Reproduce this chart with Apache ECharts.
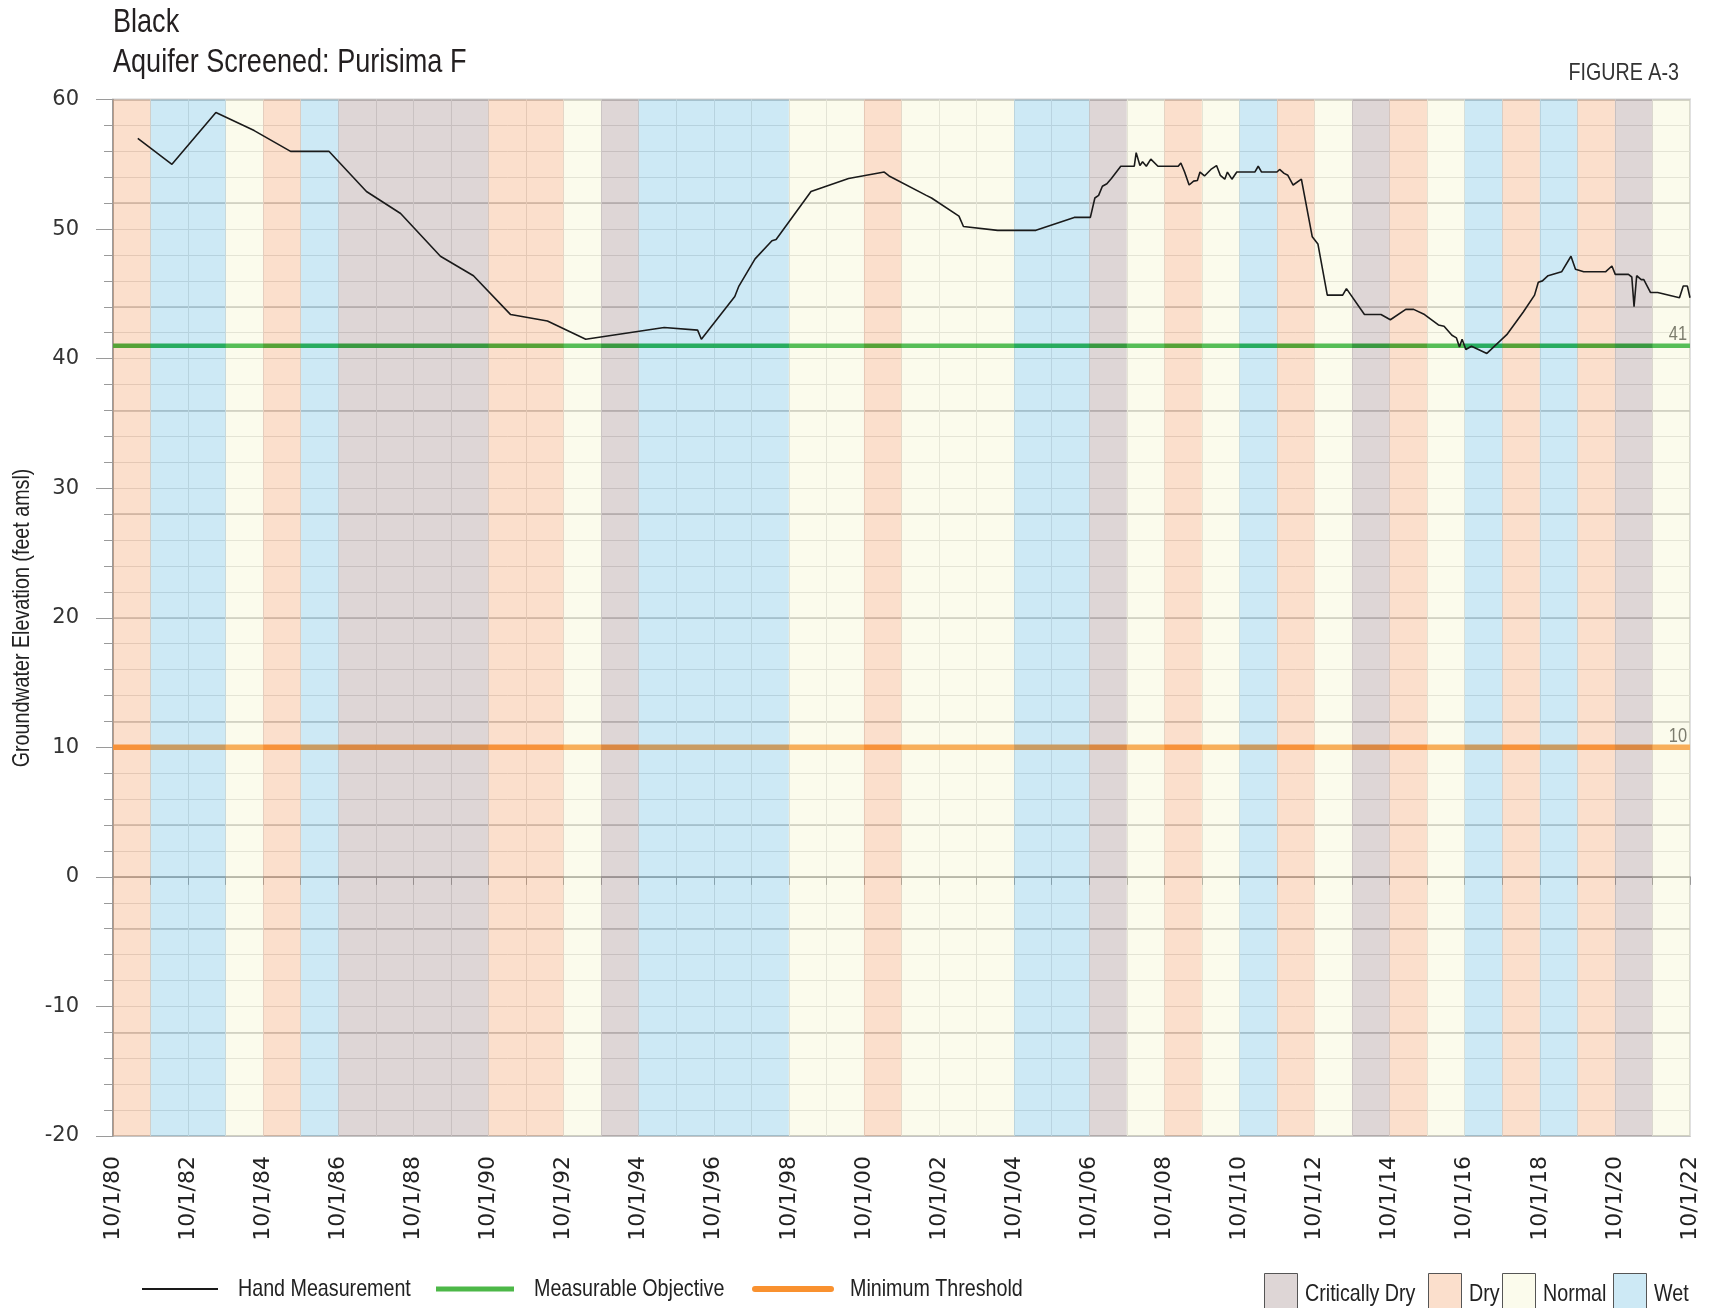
<!DOCTYPE html>
<html>
<head>
<meta charset="utf-8">
<script src="https://cdn.jsdelivr.net/npm/echarts@6/dist/echarts.min.js"></script>
<style>
html,body{margin:0;padding:0;background:#fff;}
#chart{width:1709px;height:1308px;}
</style>
</head>
<body>
<div id="chart"></div>
<script>
// ---------------- DATA ----------------
const titleLines = ['Black', 'Aquifer Screened: Purisima F'];
const figureLabel = 'FIGURE A-3';
const yAxisName = 'Groundwater Elevation (feet amsl)';
const lineLegendNames = ['Hand Measurement', 'Measurable Objective', 'Minimum Threshold'];

// Water year types, one per water year starting 10/1/1980 ... 10/1/2021
const firstWaterYear = 1980;
const yearTypes = ['Dry','Wet','Wet','Normal','Dry','Wet',
  'Critically Dry','Critically Dry','Critically Dry','Critically Dry',
  'Dry','Dry','Normal','Critically Dry','Wet','Wet','Wet','Wet',
  'Normal','Normal','Dry','Normal','Normal','Normal','Wet','Wet',
  'Critically Dry','Normal','Dry','Normal','Wet','Dry','Normal',
  'Critically Dry','Dry','Normal','Wet','Dry','Wet','Dry',
  'Critically Dry','Normal'];
const typeNames = ['Critically Dry','Dry','Normal','Wet'];

// Hand measurement: dates as decimal years, groundwater elevation (ft amsl)
const handDates = [1981.41,1982.32,1983.49,1984.51,1985.48,1986.50,1987.50,1988.41,1989.47,1990.35,
  1991.34,1992.32,1993.34,1995.43,1996.32,1996.42,1997.31,1997.42,1997.85,1998.30,
  1998.41,1999.34,2000.34,2001.29,2001.42,2002.41,2002.55,2003.28,2003.40,2004.31,
  2005.33,2006.35,2006.78,2006.90,2007.00,2007.10,2007.22,2007.34,2007.38,2007.59,
  2007.95,2008.00,2008.10,2008.17,2008.27,2008.39,2008.58,2009.12,2009.19,2009.29,
  2009.41,2009.53,2009.63,2009.70,2009.82,2009.99,2010.14,2010.24,2010.36,2010.43,
  2010.55,2010.68,2011.16,2011.25,2011.34,2011.75,2011.82,2011.94,2012.04,2012.18,
  2012.40,2012.69,2012.84,2013.09,2013.50,2013.60,2014.08,2014.52,2014.77,2015.18,
  2015.39,2015.68,2016.05,2016.20,2016.41,2016.53,2016.61,2016.68,2016.78,2016.93,
  2017.34,2017.87,2018.31,2018.61,2018.71,2018.82,2018.97,2019.33,2019.58,2019.70,
  2019.92,2020.50,2020.67,2020.76,2021.11,2021.20,2021.26,2021.33,2021.45,2021.52,
  2021.70,2021.89,2022.47,2022.57,2022.68,2022.75];
const handValues = [57.0,55.0,59.0,57.6,56.0,56.0,52.9,51.2,47.9,46.4,
  43.4,42.9,41.5,42.4,42.2,41.5,44.8,45.6,47.7,49.1,
  49.2,52.9,53.9,54.4,54.1,52.6,52.4,51.0,50.2,49.9,
  49.9,50.9,50.9,52.4,52.6,53.3,53.5,53.9,53.9,54.85,
  54.85,55.9,54.9,55.2,54.85,55.4,54.85,54.85,55.1,54.4,
  53.4,53.7,53.75,54.4,54.1,54.6,54.9,54.15,53.85,54.4,
  53.85,54.4,54.4,54.85,54.4,54.4,54.6,54.3,54.15,53.4,
  53.85,49.4,48.85,44.9,44.9,45.4,43.4,43.4,43.0,43.8,
  43.8,43.4,42.6,42.5,41.8,41.6,40.9,41.5,40.7,40.95,
  40.4,41.85,43.6,44.9,45.9,46.0,46.4,46.7,47.9,46.9,
  46.7,46.7,47.15,46.5,46.5,46.3,44.0,46.4,46.1,46.1,
  45.1,45.1,44.7,45.6,45.6,44.7];

const measurableObjective = 41;
const minimumThreshold = 10;

// Axis settings
const yMin = -20, yMax = 60, yLabelStep = 10;
const axisStart = 1980.75;   // 10/1/1980
const axisYears = 42;        // through 10/1/2022

// ---------------- STYLE ----------------
const sans = "'Liberation Sans', Arial, sans-serif";
const wide = "'DejaVu Sans','Liberation Sans',sans-serif";
const NARROW = 0.82;   // horizontal squeeze to imitate a narrow typeface
const bandRGBA = {
  'Critically Dry': 'rgba(145,118,118,0.3)',
  'Dry': 'rgba(242,148,85,0.3)',
  'Normal': 'rgba(242,242,192,0.3)',
  'Wet': 'rgba(88,182,222,0.3)'
};
const greenColor = '#14a82a';
const orangeColor = '#f9912f';
const handColor = '#1a1a1a';

const handData = handDates.map((d, i) => [d - axisStart, handValues[i]]);

function bandRender(params, api) {
  const i = api.value(0);
  const cs = params.coordSys;
  const a = api.coord([i, yMax]);
  const b = api.coord([i + 1, yMin]);
  return {
    type: 'rect',
    shape: { x: a[0], y: cs.y, width: b[0] - a[0], height: cs.height },
    style: { fill: api.visual('color') }
  };
}

function thresholdRender(color, width) {
  return function (params, api) {
    const cs = params.coordSys;
    const v = api.value(0);
    const y = api.coord([0, v])[1];
    return {
      type: 'group',
      children: [
        { type: 'line', shape: { x1: cs.x, y1: y, x2: cs.x + cs.width, y2: y },
          style: { stroke: color, lineWidth: width } },
        { type: 'text', x: cs.x + cs.width - 3, y: y - 1, scaleX: NARROW,
          style: { text: String(v), fill: '#4a4a4a', font: "20px " + sans,
                   align: 'right', verticalAlign: 'bottom' } }
      ]
    };
  };
}

const bandSeries = typeNames.map(t => ({
  name: t,
  type: 'custom',
  z: 3,
  silent: true,
  itemStyle: { color: bandRGBA[t] },
  renderItem: bandRender,
  encode: { x: 0 },
  data: yearTypes.map((yt, i) => yt === t ? [i] : null).filter(d => d !== null)
}));

// ---------- text & legend graphics (narrowed text) ----------
function ntext(x, y, text, size, opts) {
  return Object.assign({
    type: 'text', x: x, y: y, scaleX: NARROW, silent: true,
    style: Object.assign({ text: text, font: size + 'px ' + sans, fill: '#222',
      align: 'left', verticalAlign: 'middle' }, (opts && opts.style) || {})
  }, (opts && opts.el) || {});
}

const legendY = 1289;
const lineLegendLayout = [
  { x1: 142, x2: 218, tx: 238, color: handColor, width: 2, cap: 'butt' },
  { x1: 436, x2: 514, tx: 534, color: '#4db848', width: 5, cap: 'butt' },
  { x1: 755, x2: 831, tx: 850, color: orangeColor, width: 6, cap: 'round' }
];
const boxLegendX = [1264, 1428, 1502, 1613];

const graphics = [
  ntext(113, 23, titleLines[0], 33, { style: { fill: '#231f20' } }),
  ntext(113, 63, titleLines[1], 33, { style: { fill: '#231f20' } }),
  ntext(1679, 73, figureLabel, 24, { style: { fill: '#333', align: 'right' } }),
  ntext(22, 618, yAxisName, 24, { style: { align: 'center' }, el: { rotation: Math.PI / 2 } })
];
lineLegendNames.forEach((n, i) => {
  const L = lineLegendLayout[i];
  graphics.push({ type: 'line', silent: true,
    shape: { x1: L.x1, y1: legendY, x2: L.x2, y2: legendY },
    style: { stroke: L.color, lineWidth: L.width, lineCap: L.cap } });
  graphics.push(ntext(L.tx, legendY, n, 24));
});
typeNames.forEach((t, i) => {
  const x = boxLegendX[i];
  graphics.push({ type: 'rect', silent: true,
    shape: { x: x + 0.5, y: 1273.5, width: 33, height: 40 },
    style: { fill: bandRGBA[t], stroke: '#555', lineWidth: 1 } });
  graphics.push(ntext(x + 41, 1294, t, 24));
});

const chart = echarts.init(document.getElementById('chart'), null, { renderer: 'canvas' });

const option = {
  animation: false,
  backgroundColor: '#ffffff',
  grid: { left: 113, right: 19, top: 99.5, bottom: 172, show: true, borderColor: '#d2d2d2', borderWidth: 2 },
  graphic: { elements: graphics },
  xAxis: {
    type: 'value', min: 0, max: axisYears, interval: 1,
    axisLine: { show: true, lineStyle: { color: '#8a8a8a', width: 1.5 } },
    axisTick: { show: true, length: 8, lineStyle: { color: '#9a9a9a' } },
    splitLine: { show: true, lineStyle: { color: '#e0e0e0', width: 1 } },
    axisLabel: {
      rotate: 90, margin: 20, fontFamily: wide, fontSize: 22, color: '#222',
      showMinLabel: true, showMaxLabel: true,
      formatter: v => {
        if (v % 2 !== 0) return '';
        const yr = (firstWaterYear + v) % 100;
        return '10/1/' + (yr < 10 ? '0' + yr : yr);
      }
    }
  },
  yAxis: [
    {
      type: 'value', min: yMin, max: yMax, interval: yLabelStep,
      axisLine: { show: true, lineStyle: { color: '#8a8a8a', width: 1.5 } },
      axisTick: { show: true, length: 17, lineStyle: { color: '#9a9a9a' } },
      minorTick: { show: true, splitNumber: 5, length: 9, lineStyle: { color: '#9a9a9a' } },
      splitLine: { show: true, lineStyle: { color: '#dedede', width: 1 } },
      minorSplitLine: { show: true, lineStyle: { color: '#dedede', width: 1 } },
      axisLabel: { margin: 34, fontFamily: wide, fontSize: 21, color: '#333' }
    },
    {
      type: 'value', min: 0, max: 80, interval: 8, position: 'left',
      axisLine: { show: false }, axisTick: { show: false }, axisLabel: { show: false },
      splitLine: { show: true, lineStyle: { color: '#bdbdbd', width: 1.5 } }
    }
  ],
  series: [
    {
      name: 'Measurable Objective', type: 'custom', z: 2, silent: true,
      itemStyle: { color: greenColor },
      encode: { y: 0 }, data: [measurableObjective],
      renderItem: thresholdRender(greenColor, 4.5)
    },
    {
      name: 'Minimum Threshold', type: 'custom', z: 2, silent: true,
      itemStyle: { color: orangeColor },
      encode: { y: 0 }, data: [minimumThreshold],
      renderItem: thresholdRender(orangeColor, 5.5)
    },
    ...bandSeries,
    {
      name: 'Hand Measurement', type: 'line', z: 4, symbol: 'none',
      lineStyle: { color: handColor, width: 1.6 }, itemStyle: { color: handColor },
      data: handData
    }
  ]
};
chart.setOption(option);
</script>
</body>
</html>
